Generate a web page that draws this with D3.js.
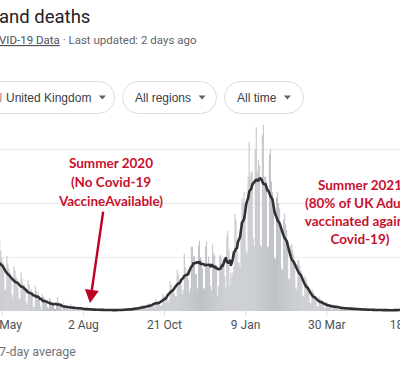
<!DOCTYPE html>
<html lang="en">
<head>
    <meta charset="UTF-8" />
    <title>Cases and deaths</title>
    <style>
        body, html {
            margin: 0;
            padding: 0;
            overflow: hidden;
            background: #fff;
        }
        svg {
            display: block;
            font-family: Roboto, Arial, sans-serif;
        }
        .chip rect {
            fill: #fff;
            stroke: #dadce0;
            stroke-width: 1px;
        }
        .chip text {
            font-family: "Liberation Sans", Arial, sans-serif;
            font-size: 12px;
            fill: #3c4043;
        }
        .note {
            font-family: Lato, sans-serif;
            font-weight: bold;
            font-size: 13.5px;
            fill: #c8102e;
        }
    </style>
</head>
<body>
<svg width="400" height="371"></svg>

<script src="https://d3js.org/d3.v7.min.js"></script>
<script>
    // daily reported deaths, one row per week, starting Sunday 10 May 2020
    const startDate = "2020-05-10";
    const dailyDeaths = [
        237, 258, 645, 559, 495, 452, 366,
        187, 204, 510, 442, 391, 357, 289,
        150, 121, 412, 377, 324, 298, 215,
        113, 111, 359, 299, 245, 242, 204,
        77, 55, 286, 245, 151, 202, 181,
        36, 38, 233, 184, 135, 173, 128,
        43, 15, 155, 135, 120, 95, 80,
        36, 25, 120, 100, 89, 67, 48,
        22, 16, 85, 126, 85, 48, 39,
        21, 11, 80, 55, 50, 40, 30,
        11, 11, 65, 40, 38, 32, 25,
        7, 7, 45, 36, 30, 28, 23,
        8, 4, 30, 24, 20, 22, 16,
        5, 4, 22, 18, 16, 14, 11,
        4, 3, 18, 17, 13, 12, 10,
        3, 2, 16, 14, 12, 9, 8,
        2, 3, 14, 12, 11, 10, 7,
        2, 3, 15, 14, 12, 12, 9,
        5, 9, 20, 19, 18, 18, 10,
        11, 11, 30, 25, 30, 25, 20,
        17, 13, 55, 37, 45, 40, 38,
        22, 19, 70, 62, 65, 55, 50,
        33, 50, 110, 95, 90, 70, 52,
        45, 55, 160, 140, 130, 120, 110,
        75, 100, 280, 240, 200, 190, 165,
        140, 136, 380, 340, 290, 260, 240,
        156, 194, 532, 410, 360, 376, 290,
        168, 213, 598, 595, 501, 511, 341,
        340, 206, 608, 650, 498, 479, 400,
        215, 205, 603, 648, 414, 504, 397,
        231, 189, 616, 533, 516, 424, 397,
        144, 232, 506, 520, 480, 450, 430,
        326, 215, 691, 744, 570, 230, 357,
        316, 357, 414, 900, 850, 613, 445,
        454, 407, 830, 1041, 1000, 1100, 900,
        563, 529, 1243, 1564, 1248, 1280, 1295,
        671, 599, 1500, 1700, 1290, 1401, 1348,
        610, 592, 1631, 1725, 1239, 1245, 1200,
        587, 600, 1449, 1500, 1200, 1100, 1000,
        500, 480, 1052, 1100, 1000, 950, 800,
        400, 380, 850, 900, 800, 750, 650,
        300, 290, 600, 620, 560, 520, 450,
        220, 200, 470, 470, 420, 380, 320,
        140, 130, 320, 300, 270, 240, 200,
        80, 70, 200, 180, 160, 140, 110,
        45, 40, 130, 115, 100, 90, 70,
        30, 25, 85, 75, 65, 55, 45,
        20, 15, 60, 55, 50, 45, 35,
        15, 12, 45, 40, 35, 30, 25,
        12, 10, 35, 32, 28, 24, 20,
        10, 8, 30, 26, 22, 20, 16,
        7, 6, 22, 20, 18, 15, 12,
        5, 5, 18, 16, 14, 12, 10,
        4, 4, 15, 13, 12, 10, 8,
        3, 3, 14, 12, 10, 9, 7,
        2, 2, 13, 11, 9, 8, 6,
        3, 3, 14, 12, 11, 10, 8
    ];
    const tickDates = ["2020-05-14", "2020-08-02", "2020-10-21", "2021-01-09", "2021-03-30", "2021-06-18"];
    const gridValues = [0, 500, 1000, 1500];
    const filterChips = ["United Kingdom", "All regions", "All time"];

    // annotations: arrow from tail to tip, in date/value terms
    const arrow2020 = { tail: ["2020-08-22", 920], tip: ["2020-08-09", 75] };
    const note2020 = ["Summer 2020", "(No Covid-19", "VaccineAvailable)"];
    const note2021 = ["Summer 2021", "(80% of UK Adults", "vaccinated against", "Covid-19)"];

    const parse = d3.utcParse("%Y-%m-%d");
    const t0 = parse(startDate);
    const days = dailyDeaths.map((v, i) => ({ date: d3.utcDay.offset(t0, i), value: v }));

    // 7-day average (centred)
    const avg = days.map((d, i) => {
        const win = dailyDeaths.slice(Math.max(0, i - 3), Math.min(dailyDeaths.length, i + 4));
        return { date: d.date, value: d3.mean(win) };
    });

    const svg = d3.select("svg");

    const x = d3.scaleUtc()
        .domain([parse("2020-05-14"), parse("2021-06-18")])
        .range([1.8, 407.3]);
    const y = d3.scaleLinear()
        .domain([0, 1500])
        .range([311, 149]);
    const dayW = x(parse("2020-05-15")) - x(parse("2020-05-14"));

    // header (cropped)
    svg.append("text")
        .attr("x", -1).attr("y", 23)
        .attr("font-size", 18.5)
        .attr("fill", "#202124")
        .text("and deaths");

    const sub = svg.append("text")
        .attr("x", -1).attr("y", 44)
        .attr("font-size", 11.5)
        .attr("fill", "#5f6368");
    sub.append("tspan").attr("text-decoration", "underline").attr("fill", "#4d5156").text("VID-19 Data");
    sub.append("tspan").text(" · Last updated: 2 days ago");

    // filter chips
    const chipX = [[-24, 114], [122, 216], [224, 303]];
    filterChips.forEach((label, i) => {
        const g = svg.append("g").attr("class", "chip");
        const [a, b] = chipX[i];
        g.append("rect")
            .attr("x", a + 0.5).attr("y", 81.5)
            .attr("width", b - a).attr("height", 32)
            .attr("rx", 16);
        const tx = i === 0 ? 6 : a + 13;
        const t = g.append("text")
            .attr("x", tx).attr("y", 101.5)
            .text(label);
        const w = t.node().getComputedTextLength();
        const cx = tx + w + 11;
        g.append("path")
            .attr("d", `M${cx - 3.5},95.5 L${cx + 3.5},95.5 L${cx},99.5 Z`)
            .attr("fill", "#5f6368");
    });
    // edge of the flag icon in the first chip
    svg.append("rect").attr("x", 0).attr("y", 93).attr("width", 1.6).attr("height", 9).attr("fill", "#d9a0a8");

    // gridlines
    svg.append("g")
        .selectAll("line")
        .data(gridValues.slice(1))
        .join("line")
        .attr("x1", 0).attr("x2", 400)
        .attr("y1", d => y(d) + 0.5).attr("y2", d => y(d) + 0.5)
        .attr("stroke", "#ececec");

    // daily bars
    svg.append("g")
        .selectAll("rect")
        .data(days)
        .join("rect")
        .attr("x", d => x(d.date) - dayW / 2)
        .attr("width", dayW)
        .attr("y", d => y(d.value))
        .attr("height", d => y(0) - y(d.value))
        .attr("fill", "#bfc2c6");

    // 7-day average line
    svg.append("path")
        .datum(avg)
        .attr("fill", "none")
        .attr("stroke", "#303134")
        .attr("stroke-width", 2.6)
        .attr("stroke-linejoin", "round")
        .attr("d", d3.line().x(d => x(d.date)).y(d => y(d.value)));

    // x axis
    const xAxis = svg.append("g")
        .attr("transform", `translate(0,${y(0)})`)
        .call(d3.axisBottom(x)
            .tickValues(tickDates.map(parse))
            .tickFormat(d3.utcFormat("%-d %b"))
            .tickSize(5)
            .tickPadding(4));
    xAxis.select(".domain").remove();
    xAxis.selectAll(".tick line").attr("stroke", "#dadce0");
    xAxis.selectAll(".tick text")
        .attr("fill", "#4d5156")
        .attr("font-size", 12)
        .attr("font-family", "Roboto, Arial, sans-serif");

    // legend (cropped)
    svg.append("text")
        .attr("x", -1).attr("y", 356)
        .attr("font-size", 12.5)
        .attr("fill", "#70757a")
        .text("7-day average");

    // annotations
    svg.append("g")
        .selectAll("text")
        .data(note2020)
        .join("text")
        .attr("class", "note")
        .attr("text-anchor", "middle")
        .attr("x", 111)
        .attr("y", (d, i) => 168 + i * 19)
        .text(d => d);

    svg.append("g")
        .selectAll("text")
        .data(note2021)
        .join("text")
        .attr("class", "note")
        .attr("text-anchor", "middle")
        .attr("x", 360)
        .attr("y", (d, i) => 190 + i * 18)
        .text(d => d);

    const tx0 = x(parse(arrow2020.tail[0])), ty0 = y(arrow2020.tail[1]);
    const tx1 = x(parse(arrow2020.tip[0])), ty1 = y(arrow2020.tip[1]);
    const len = Math.hypot(tx1 - tx0, ty1 - ty0);
    const ux = (tx1 - tx0) / len, uy = (ty1 - ty0) / len;
    const headL = 13, headW = 7;
    const bx = tx1 - ux * headL, by = ty1 - uy * headL;
    svg.append("line")
        .attr("x1", tx0).attr("y1", ty0)
        .attr("x2", bx).attr("y2", by)
        .attr("stroke", "#c00020")
        .attr("stroke-width", 2.4);
    svg.append("path")
        .attr("d", `M${tx1},${ty1} L${bx - uy * headW},${by + ux * headW} L${bx + uy * headW},${by - ux * headW} Z`)
        .attr("fill", "#c00020");
</script>
</body>
</html>
